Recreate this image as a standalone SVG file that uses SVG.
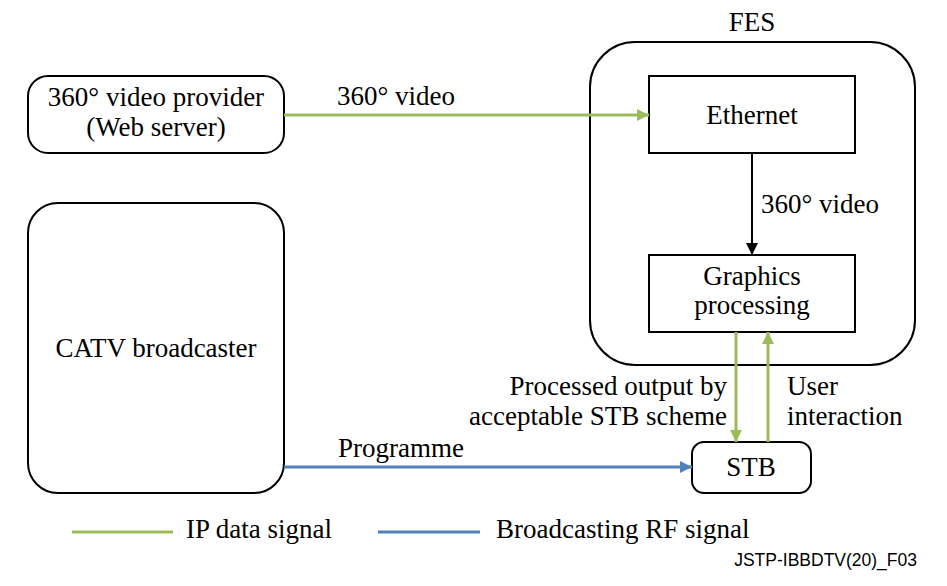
<svg xmlns="http://www.w3.org/2000/svg" width="947" height="586" viewBox="0 0 947 586">
<style>
.box{fill:#fff;stroke:#000;stroke-width:2}
text{font-family:'Liberation Serif','Times New Roman',serif;font-size:27px;fill:#000}
.c{text-anchor:middle}
.g{stroke:#9BBB59;stroke-width:3;fill:none}
.b{stroke:#4F81BD;stroke-width:3;fill:none}
.k{stroke:#000;stroke-width:2;fill:none}
</style>
<defs>
<marker id="ag" viewBox="0 0 10 10" refX="10" refY="5" markerWidth="12" markerHeight="12" markerUnits="userSpaceOnUse" orient="auto"><path d="M0,0L10,5L0,10z" fill="#9BBB59"/></marker>
<marker id="ab" viewBox="0 0 10 10" refX="10" refY="5" markerWidth="12" markerHeight="12" markerUnits="userSpaceOnUse" orient="auto"><path d="M0,0L10,5L0,10z" fill="#4F81BD"/></marker>
<marker id="ak" viewBox="0 0 10 10" refX="10" refY="5" markerWidth="12" markerHeight="12" markerUnits="userSpaceOnUse" orient="auto"><path d="M0,0L10,5L0,10z" fill="#000"/></marker>
</defs>
<rect width="947" height="586" fill="#fff"/>
<g id="fes">
<rect class="box" x="590" y="42" width="325" height="323" rx="45"/>
<text class="c" x="752" y="31">FES</text>
</g>
<g id="ethernet">
<rect class="box" x="649" y="76" width="206" height="77"/>
<text class="c" x="752" y="124">Ethernet</text>
</g>
<g id="graphics">
<rect class="box" x="649" y="255" width="206" height="77"/>
<text class="c" x="752" y="285">Graphics</text>
<text class="c" x="752" y="314">processing</text>
</g>
<g id="provider">
<rect class="box" x="28" y="76" width="256" height="77" rx="20"/>
<text class="c" x="156" y="106">360° video provider</text>
<text class="c" x="156" y="136">(Web server)</text>
</g>
<g id="catv">
<rect class="box" x="28" y="203" width="256" height="290" rx="30"/>
<text class="c" x="156" y="357">CATV broadcaster</text>
</g>
<g id="stb">
<rect class="box" x="692" y="442" width="119" height="51" rx="12"/>
<text class="c" x="751" y="476">STB</text>
</g>
<g id="connectors">
<line class="g" x1="284" y1="115" x2="649" y2="115" marker-end="url(#ag)"/>
<line class="k" x1="752" y1="153" x2="752" y2="255" marker-end="url(#ak)"/>
<line class="g" x1="736" y1="332" x2="736" y2="442" marker-end="url(#ag)"/>
<line class="g" x1="768" y1="442" x2="768" y2="332" marker-end="url(#ag)"/>
<line class="b" x1="284" y1="467" x2="692" y2="467" marker-end="url(#ab)"/>
<text x="337" y="105">360° video</text>
<text x="761" y="213">360° video</text>
<text x="727" y="395" text-anchor="end">Processed output by</text>
<text x="727" y="425" text-anchor="end">acceptable STB scheme</text>
<text x="787" y="395">User</text>
<text x="787" y="425">interaction</text>
<text x="338" y="457">Programme</text>
</g>
<g id="legend">
<line class="g" x1="72" y1="532" x2="173" y2="532"/>
<text x="186" y="538">IP data signal</text>
<line class="b" x1="378" y1="532" x2="480" y2="532"/>
<text x="496" y="538">Broadcasting RF signal</text>
<text x="917" y="566" text-anchor="end" style="font-family:'Liberation Sans',Arial,sans-serif;font-size:17.5px;fill:#000">JSTP-IBBDTV(20)_F03</text>
</g>
</svg>
